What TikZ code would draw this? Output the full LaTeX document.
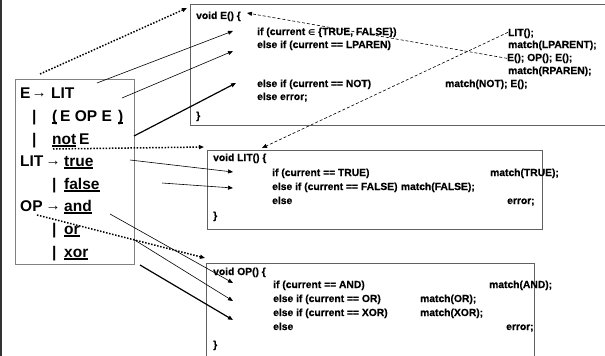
\documentclass[tikz,border=0pt]{standalone}
\usepackage{fontspec}
\setmainfont{Liberation Sans}
\newfontfamily\dejavu{DejaVu Sans}
\newfontfamily\codefont{Liberation Sans}[FakeBold=0.5]
\usetikzlibrary{arrows.meta}
\newcommand\myul[1]{\setbox0\hbox{#1}\rlap{\raisebox{-2.6pt}{\rule{\wd0}{1.3pt}}}\box0}
\begin{document}
\begin{tikzpicture}[x=1pt,y=-1pt,
  gram/.style={anchor=base west,inner sep=0pt,font=\fontsize{15.5}{18}\selectfont\bfseries},
  garrow/.style={anchor=base,inner sep=0pt,font=\fontsize{15}{16}\selectfont\bfseries},
  code/.style={anchor=base west,inner sep=0pt,font=\codefont\fontsize{10.3}{12}\selectfont\bfseries},
  box/.style={draw=black!62,line width=0.8pt,anchor=north west,inner sep=0pt},
  tip/.style={-{Triangle[length=5pt,width=4pt]}},
  solidarrow/.style={tip,line width=0.6pt},
  thickarrow/.style={tip,line width=1.2pt},
  dotarrow/.style={tip,line width=1.5pt,dash pattern=on 1.5pt off 1.6pt},
  dasharrow/.style={tip,line width=0.6pt,dash pattern=on 3pt off 2pt}]
\useasboundingbox (0,0) rectangle (605,356);
\draw[line width=1.5pt,black!80] (1,0) -- (1,356);

% boxes
\node[box,draw=black!50,minimum width=119pt,minimum height=185pt] (g) at (15,79) {};
\node[box,minimum width=420pt,minimum height=121pt] (boxE) at (190,4) {};
\node[box,minimum width=335pt,minimum height=79pt] (boxLIT) at (207,150) {};
\node[box,minimum width=328pt,minimum height=110pt] (boxOP) at (206,263) {};

% grammar
\node[gram] (r1a) at (20,98) {E};
\node[garrow] (r1b) at (39,97) {→};
\node[gram] (r1c) at (51,98) {LIT};
\node[gram] (r2a) at (32,121) {|};
\node[gram] (r2b) at (52,121) {\myul{(}};
\node[gram] (r2c) at (60,121) {E OP E};
\node[gram] (r2d) at (118,121) {\myul{)}};
\node[gram] (r3a) at (32,144) {|};
\node[gram] (r3b) at (52,144) {\myul{not}};
\node[gram] (r3c) at (79,144) {E};
\node[gram] (r4a) at (20,166) {LIT};
\node[garrow] (r4b) at (53,165) {→};
\node[gram] (r4c) at (64,166) {\myul{true}};
\node[gram] (r5a) at (52,189) {|};
\node[gram] (r5b) at (64,189) {\myul{false}};
\node[gram] (r6a) at (20,211) {OP};
\node[garrow] (r6b) at (53,210) {→};
\node[gram] (r6c) at (64,211) {\myul{and}};
\node[gram] (r7a) at (52,234) {|};
\node[gram] (r7b) at (64,234) {\myul{or}};
\node[gram] (r8a) at (52,257) {|};
\node[gram] (r8b) at (64,257) {\myul{xor}};

% E box code
\node[code] (e0) at (196,19) {void E() \{};
\node[code] (e1) at (257,35) {if (current {\dejavu\fontsize{8}{10}\selectfont ∈} \{TRUE, FALSE\})};
\node[code] (e2) at (257,48) {else if (current == LPAREN)};
\node[code] (e5) at (257,87) {else if (current == NOT)};
\node[code] (e6) at (257,100) {else error;};
\node[code] (e7) at (196,119) {\}};
\node[code] (f1) at (508,36) {LIT();};
\node[code] (f2) at (508,48) {match(LPARENT);};
\node[code] (f3) at (507,61) {E(); OP(); E();};
\node[code] (f4) at (508,74) {match(RPAREN);};
\node[code] (f5) at (445,87) {match(NOT); E();};

% LIT box code
\node[code] (l0) at (213,161) {void LIT() \{};
\node[code] (l1) at (272,176) {if (current == TRUE)};
\node[code] (m1) at (490,176) {match(TRUE);};
\node[code] (l2) at (272,190) {else if (current == FALSE)};
\node[code,xshift=3pt] (m2) at (l2.base east) {match(FALSE);};
\node[code] (l3) at (272,204) {else};
\node[code] (m3) at (507,204) {error;};
\node[code] (l4) at (213,219) {\}};

% OP box code
\node[code] (o0) at (213,275) {void OP() \{};
\node[code] (o1) at (273,288) {if (current == AND)};
\node[code] (p1) at (489,288) {match(AND);};
\node[code] (o2) at (273,302) {else if (current == OR)};
\node[code] (p2) at (420,302) {match(OR);};
\node[code] (o3) at (273,316) {else if (current == XOR)};
\node[code] (p3) at (420,316) {match(XOR);};
\node[code] (o4) at (273,330) {else};
\node[code] (p4) at (506,330) {error;};
\node[code] (o5) at (213,348) {\}};

% connector end points
\coordinate (s1) at (40,74);   \coordinate (t1) at (187,8);
\coordinate (s2) at (97,83);   \coordinate (t2) at (233,31);
\coordinate (s3) at (122,98);  \coordinate (t3) at (233,51);
\coordinate (s4) at (134,136); \coordinate (t4) at (236,83);
\coordinate (s5) at (53,149);  \coordinate (t5) at (204,147);
\coordinate (s6) at (130,160); \coordinate (t6) at (233,172);
\coordinate (s7) at (162,183); \coordinate (t7) at (233,188);
\coordinate (s8) at (110,214); \coordinate (t8) at (233,283);
\coordinate (s9) at (133,239); \coordinate (t9) at (233,301);
\coordinate (s10) at (140,265); \coordinate (t10) at (233,320);
\coordinate (s11) at (37,215); \coordinate (t11) at (205,258);
\coordinate (t12) at (247,13);
\coordinate (t13) at (262,148);

\draw[dotarrow] (s1) -- (t1);
\draw[solidarrow] (s2) -- (t2);
\draw[solidarrow] (s3) -- (t3);
\draw[thickarrow] (s4) -- (t4);
\draw[dotarrow] (s5) -- (t5);
\draw[solidarrow] (s6) -- (t6);
\draw[solidarrow] (s7) -- (t7);
\draw[solidarrow] (s8) -- (t8);
\draw[solidarrow] (s9) -- (t9);
\draw[thickarrow] (s10) -- (t10);
\draw[dotarrow] (s11) -- (t11);
\draw[dasharrow] (f3.west) -- (t12);
\draw[dasharrow] ([yshift=-4pt]f1.north west) -- (t13);
\end{tikzpicture}
\end{document}
